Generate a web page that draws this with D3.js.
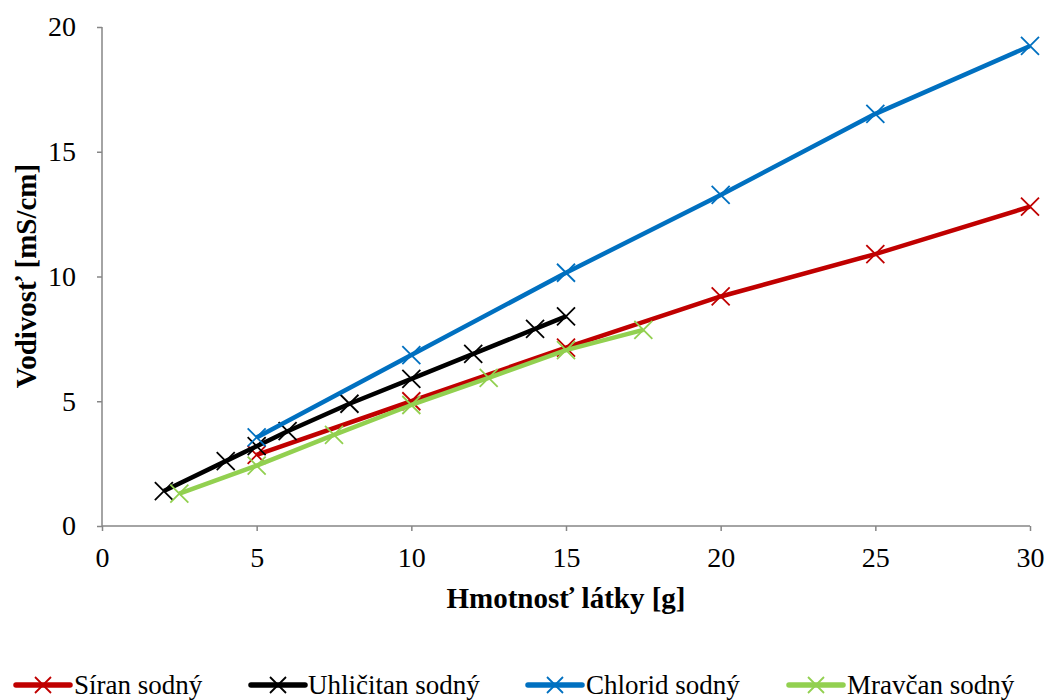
<!DOCTYPE html>
<html>
<head>
<meta charset="utf-8">
<script src="https://cdn.jsdelivr.net/npm/d3@7"></script>
<style>
  html, body { margin: 0; padding: 0; background: #fff; }
  svg { display: block; }
  text { font-family: "Liberation Serif", "Times New Roman", serif; fill: #000; }
</style>
</head>
<body>
<svg id="chart" width="1050" height="700"></svg>
<script>
// Conductivity vs. mass of dissolved salt
const seriesNames = ["Síran sodný", "Uhličitan sodný", "Chlorid sodný", "Mravčan sodný"];
const seriesColors = ["#C00000", "#000000", "#0070C0", "#92D050"];

const siranX = [5, 10, 15, 20, 25, 30];
const siranY = [2.85, 5.0, 7.15, 9.2, 10.9, 12.8];

const uhlicitanX = [2, 4, 5, 6, 8, 10, 12, 14, 15];
const uhlicitanY = [1.4, 2.6, 3.2, 3.8, 4.9, 5.9, 6.9, 7.9, 8.4];

const chloridX = [5, 10, 15, 20, 25, 30];
const chloridY = [3.55, 6.85, 10.15, 13.27, 16.52, 19.24];

const mravcanX = [2.5, 5, 7.5, 10, 12.5, 15, 17.5];
const mravcanY = [1.3, 2.42, 3.65, 4.85, 5.94, 7.05, 7.86];

const xTicks = [0, 5, 10, 15, 20, 25, 30];
const yTicks = [0, 5, 10, 15, 20];

const xTitle = "Hmotnosť látky [g]";
const yTitle = "Vodivosť [mS/cm]";

const seriesData = [
  [siranX, siranY],
  [uhlicitanX, uhlicitanY],
  [chloridX, chloridY],
  [mravcanX, mravcanY]
].map(([xs, ys], i) => ({
  name: seriesNames[i],
  color: seriesColors[i],
  points: xs.map((x, j) => ({ x, y: ys[j] }))
}));

const svg = d3.select("#chart");
const plot = { left: 102, right: 1030, top: 27, bottom: 526 };

const x = d3.scaleLinear().domain([0, 30]).range([plot.left, plot.right]);
const y = d3.scaleLinear().domain([0, 20]).range([plot.bottom, plot.top]);

const axisColor = "#868686";

// y axis
const yAxis = svg.append("g")
  .attr("transform", `translate(${plot.left},0)`)
  .call(d3.axisLeft(y).tickValues(yTicks).tickSize(5).tickPadding(21).tickFormat(d3.format("d")));
// x axis
const xAxis = svg.append("g")
  .attr("transform", `translate(0,${plot.bottom})`)
  .call(d3.axisBottom(x).tickValues(xTicks).tickSize(5).tickPadding(16).tickFormat(d3.format("d")));

[xAxis, yAxis].forEach(g => {
  g.select(".domain").attr("stroke", axisColor).attr("stroke-width", 1.5);
  g.selectAll(".tick line").attr("stroke", axisColor).attr("stroke-width", 1.5);
  g.selectAll(".tick text")
    .style("font-family", '"Liberation Serif", "Times New Roman", serif')
    .style("font-size", "28px")
    .attr("fill", "#000");
});
// plain domain lines without end stubs
xAxis.select(".domain").attr("d", `M${plot.left},0H${plot.right}`);
yAxis.select(".domain").attr("d", `M0,${plot.bottom}V${plot.top}`);

// axis titles
svg.append("text")
  .attr("x", 566)
  .attr("y", 608)
  .attr("text-anchor", "middle")
  .style("font-size", "29px")
  .style("font-weight", "bold")
  .text(xTitle);

svg.append("text")
  .attr("transform", `translate(36,276) rotate(-90)`)
  .attr("text-anchor", "middle")
  .style("font-size", "29px")
  .style("font-weight", "bold")
  .text(yTitle);

// series lines and markers
const line = d3.line().x(d => x(d.x)).y(d => y(d.y));
const m = 9;
const crossPath = (cx, cy, s) => `M${cx - s},${cy - s}L${cx + s},${cy + s}M${cx - s},${cy + s}L${cx + s},${cy - s}`;

seriesData.forEach(s => {
  const g = svg.append("g");
  g.append("path")
    .datum(s.points)
    .attr("d", line)
    .attr("fill", "none")
    .attr("stroke", s.color)
    .attr("stroke-width", 4.5)
    .attr("stroke-linejoin", "round");
  g.selectAll("path.mark")
    .data(s.points)
    .join("path")
    .attr("class", "mark")
    .attr("d", d => crossPath(x(d.x), y(d.y), m))
    .attr("stroke", s.color)
    .attr("stroke-width", 1.8)
    .attr("fill", "none");
});

// legend
const legendItems = [
  { lx: 16, tx: 74 },
  { lx: 251, tx: 308 },
  { lx: 528, tx: 586 },
  { lx: 789, tx: 847 }
];
const legendY = 685;
seriesData.forEach((s, i) => {
  const it = legendItems[i];
  const g = svg.append("g");
  g.append("line")
    .attr("x1", it.lx).attr("x2", it.lx + 54)
    .attr("y1", legendY).attr("y2", legendY)
    .attr("stroke", s.color).attr("stroke-width", 5.5).attr("stroke-linecap", "round");
  g.append("path")
    .attr("d", crossPath(it.lx + 27, legendY, 8))
    .attr("stroke", s.color).attr("stroke-width", 1.8).attr("fill", "none");
  g.append("text")
    .attr("x", it.tx)
    .attr("y", 694)
    .style("font-size", "27px")
    .text(s.name);
});
</script>
</body>
</html>
